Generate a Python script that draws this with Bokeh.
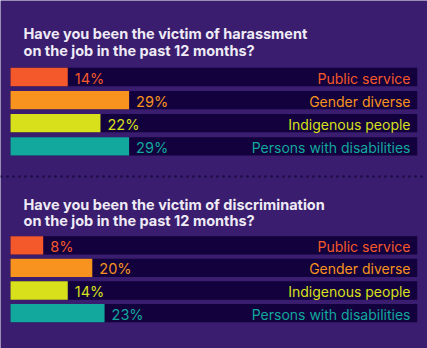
from bokeh.plotting import figure
from bokeh.models import Range1d, ColumnDataSource
from bokeh.core.properties import value
from bokeh.embed import file_html
from bokeh.resources import INLINE

categories = ["Public service", "Gender diverse", "Indigenous people", "Persons with disabilities"]
harassment = [14, 29, 22, 29]
discrimination = [8, 20, 14, 23]
colors = ["#f4592b", "#f7931e", "#d8e01c", "#13a89e"]
titles = [
    ["Have you been the victim of harassment", "on the job in the past 12 months?"],
    ["Have you been the victim of discrimination", "on the job in the past 12 months?"],
]

BG = "#3a1d6e"
TRACK = "#12013d"
FONT = "Inter"
PX = 4.09  # pixels per percent

W, H = 427, 348
p = figure(width=W, height=H, output_backend="svg", toolbar_location=None,
           min_border=0, outline_line_color=None,
           background_fill_color=BG, border_fill_color=BG)
p.x_range = Range1d(-10 / PX, (W - 10) / PX)
p.y_range = Range1d(H, 0)
p.axis.visible = False
p.grid.visible = False

sections = [
    (harassment, 76.5, 23.1, [33, 50]),
    (discrimination, 244.8, 22.6, [204, 220]),
]
track_end = 406.7 / PX
label_x = 400 / PX
bar_h = 18.3

for (vals, y0, pitch, ty), tl in zip(sections, titles):
    ys = [y0 + i * pitch for i in range(len(vals))]
    src = ColumnDataSource(dict(y=ys, v=vals, c=colors, cat=categories,
                                lab=[f"{v}%" for v in vals],
                                end=[track_end] * len(vals)))
    p.hbar(y="y", left=0, right="end", height=bar_h, fill_color=TRACK,
           line_color=None, source=src)
    p.hbar(y="y", left=0, right="v", height=bar_h, fill_color="c",
           line_color=None, source=src)
    p.text(x="v", y="y", text="lab", text_color="c", x_offset=7, y_offset=1,
           text_baseline="middle", text_align="left", text_font_size="14.5px",
           text_font=value(FONT), source=src)
    p.text(x=label_x, y="y", text="cat", text_color="c", y_offset=1,
           text_baseline="middle", text_align="right", text_font_size="14px",
           text_font=value(FONT), source=src)
    p.text(x=[13 / PX, 13 / PX], y=ty, text=tl, text_color="#efebf6",
           text_baseline="middle", text_align="left", text_font_size="14.5px",
           text_font=value(FONT), text_font_style="bold")

# dotted separator
p.segment(x0=[-10 / PX + 1 / PX], y0=[176], x1=[(W - 10) / PX], y1=[176],
          line_color="#1b0b45", line_width=2.5, line_dash="0 6", line_cap="round")

open("out.html", "w").write(file_html(p, INLINE))
